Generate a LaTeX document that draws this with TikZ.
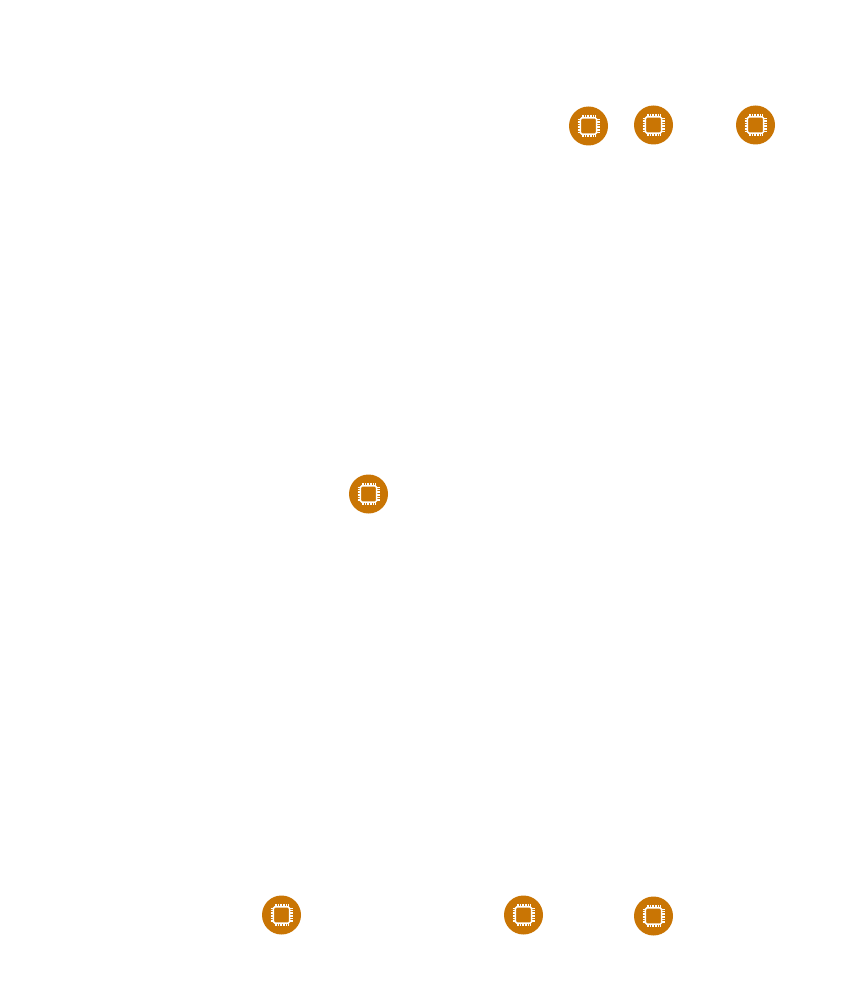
\documentclass[tikz,border=0pt]{standalone}
\definecolor{chiporange}{HTML}{C97504}
\tikzset{
  x=1pt,y=-1pt,
  chipdisc/.style={circle,fill=chiporange,draw=none,minimum size=39pt,inner sep=0pt},
  chip/.pic={
    \foreach \t in {-6.4,-4.8,-3.2,-1.6,0,1.6,3.2,4.8,6.4}{
      \draw[white,line width=0.6pt] (\t,-11) -- (\t,11);
      \draw[white,line width=0.6pt] (-11,\t) -- (11,\t);
    }
    \draw[white,fill=chiporange,line width=1.5pt,rounded corners=1.6pt] (-8.2,-8.2) rectangle (8.2,8.2);
  }
}
\begin{document}
\begin{tikzpicture}
\useasboundingbox (0,0) rectangle (850,1000);
\fill[white] (0,0) rectangle (850,1000);
\node[chipdisc] (a) at (588.5,126) {};
\node[chipdisc] (b) at (653.5,125) {};
\node[chipdisc] (c) at (755.5,125) {};
\node[chipdisc] (d) at (368.5,494) {};
\node[chipdisc] (e) at (281.5,915) {};
\node[chipdisc] (f) at (523.5,915) {};
\node[chipdisc] (g) at (653.5,916) {};
\foreach \n in {a,b,c,d,e,f,g}{ \pic at (\n) {chip}; }
\end{tikzpicture}
\end{document}
